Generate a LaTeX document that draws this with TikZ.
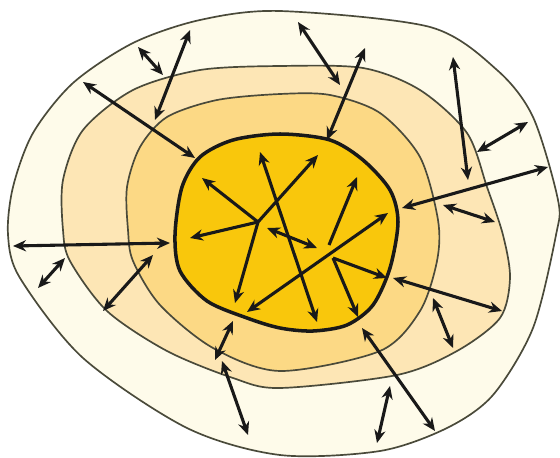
\documentclass[tikz,border=0pt]{standalone}
\usetikzlibrary{arrows.meta}
\definecolor{zoneA}{HTML}{FEFBEA}
\definecolor{zoneB}{HTML}{FDE6B5}
\definecolor{zoneC}{HTML}{FCD985}
\definecolor{zoneD}{HTML}{F9C70C}
\definecolor{ringline}{HTML}{4A4A3A}
\tikzset{
  ring/.style={draw=ringline, line width=2.4pt},
  corering/.style={draw=black!90, line width=5pt},
  dbl/.style={draw=black!90, line width=4.4pt, {Stealth[length=6.5mm,width=5.6mm]}-{Stealth[length=6.5mm,width=5.6mm]}},
  sgl/.style={draw=black!90, line width=4.4pt, -{Stealth[length=6.5mm,width=5.6mm]}}
}
\begin{document}
\begin{tikzpicture}[x=0.5mm,y=-0.5mm]
\useasboundingbox (0,0) rectangle (560,457);
% zones
\path[ring, fill=zoneA] plot[smooth cycle] coordinates {(8,235) (20,278) (83,358) (187,428) (280,455) (380,451) (447,428) (493,395) (533,328) (556,235) (558,200) (533,117) (497,70) (430,27) (280,11) (200,20) (133,43) (73,83) (33,133) (13,187)};
\path[ring, fill=zoneB] plot[smooth cycle] coordinates {(63,230) (70,261) (107,311) (167,351) (233,378) (280,388) (397,375) (457,351) (500,318) (510,278) (503,235) (487,187) (467,133) (420,90) (363,68) (280,66) (200,70) (133,90) (83,130) (63,180)};
\path[ring, fill=zoneC] plot[smooth cycle] coordinates {(128,230) (133,261) (160,305) (213,348) (280,371) (380,351) (420,311) (437,261) (438,220) (420,157) (380,113) (330,95) (280,94) (217,100) (167,117) (140,147) (127,187)};
\path[corering, fill=zoneD] plot[smooth cycle] coordinates {(175,235) (180,271) (207,301) (247,318) (280,328) (313,331) (347,325) (373,305) (390,268) (398,222) (390,190) (363,160) (330,140) (280,134) (233,140) (200,157) (182,187)};
% outer arrow end points
\coordinate (o1a) at (138,47);  \coordinate (o1b) at (163,75);
\coordinate (o2a) at (190,30);  \coordinate (o2b) at (155,120);
\coordinate (o3a) at (83,82);   \coordinate (o3b) at (195,158);
\coordinate (o4a) at (298,22);  \coordinate (o4b) at (340,85);
\coordinate (o5a) at (365,48);  \coordinate (o5b) at (327,140);
\coordinate (o6a) at (453,57);  \coordinate (o6b) at (468,180);
\coordinate (o7a) at (528,122); \coordinate (o7b) at (477,152);
\coordinate (o8a) at (548,167); \coordinate (o8b) at (402,208);
\coordinate (o9a) at (443,205); \coordinate (o9b) at (495,222);
\coordinate (o10a) at (13,246); \coordinate (o10b) at (170,243);
\coordinate (o11a) at (65,258); \coordinate (o11b) at (38,288);
\coordinate (o12a) at (153,255);\coordinate (o12b) at (103,311);
\coordinate (o13a) at (233,321);\coordinate (o13b) at (215,360);
\coordinate (o14a) at (222,361);\coordinate (o14b) at (248,435);
\coordinate (o15a) at (393,278);\coordinate (o15b) at (502,311);
\coordinate (o16a) at (433,298);\coordinate (o16b) at (453,348);
\coordinate (o17a) at (362,328);\coordinate (o17b) at (435,431);
\coordinate (o18a) at (390,386);\coordinate (o18b) at (377,443);
% inner points
\coordinate (A) at (258,222);
\coordinate (a1) at (202,178); \coordinate (a2) at (190,238);
\coordinate (a3) at (235,303); \coordinate (a4) at (318,155);
\coordinate (i5a) at (267,228); \coordinate (i5b) at (317,248);
\coordinate (i6a) at (260,152); \coordinate (i6b) at (317,322);
\coordinate (i7a) at (247,312); \coordinate (i7b) at (388,213);
\coordinate (B1) at (329,245); \coordinate (b1) at (357,177);
\coordinate (B2) at (333,258); \coordinate (b2) at (387,278);
\coordinate (b3) at (358,317);
% outer arrows
\foreach \n in {1,...,18} {\draw[dbl] (o\n a) -- (o\n b);}
% inner arrows
\draw[sgl] (A) -- (a1);
\draw[sgl] (A) -- (a2);
\draw[sgl] (A) -- (a3);
\draw[sgl] (A) -- (a4);
\draw[dbl] (i5a) -- (i5b);
\draw[dbl] (i6a) -- (i6b);
\draw[dbl] (i7a) -- (i7b);
\draw[sgl] (B1) -- (b1);
\draw[sgl] (B2) -- (b2);
\draw[sgl] (B2) -- (b3);
\end{tikzpicture}
\end{document}
